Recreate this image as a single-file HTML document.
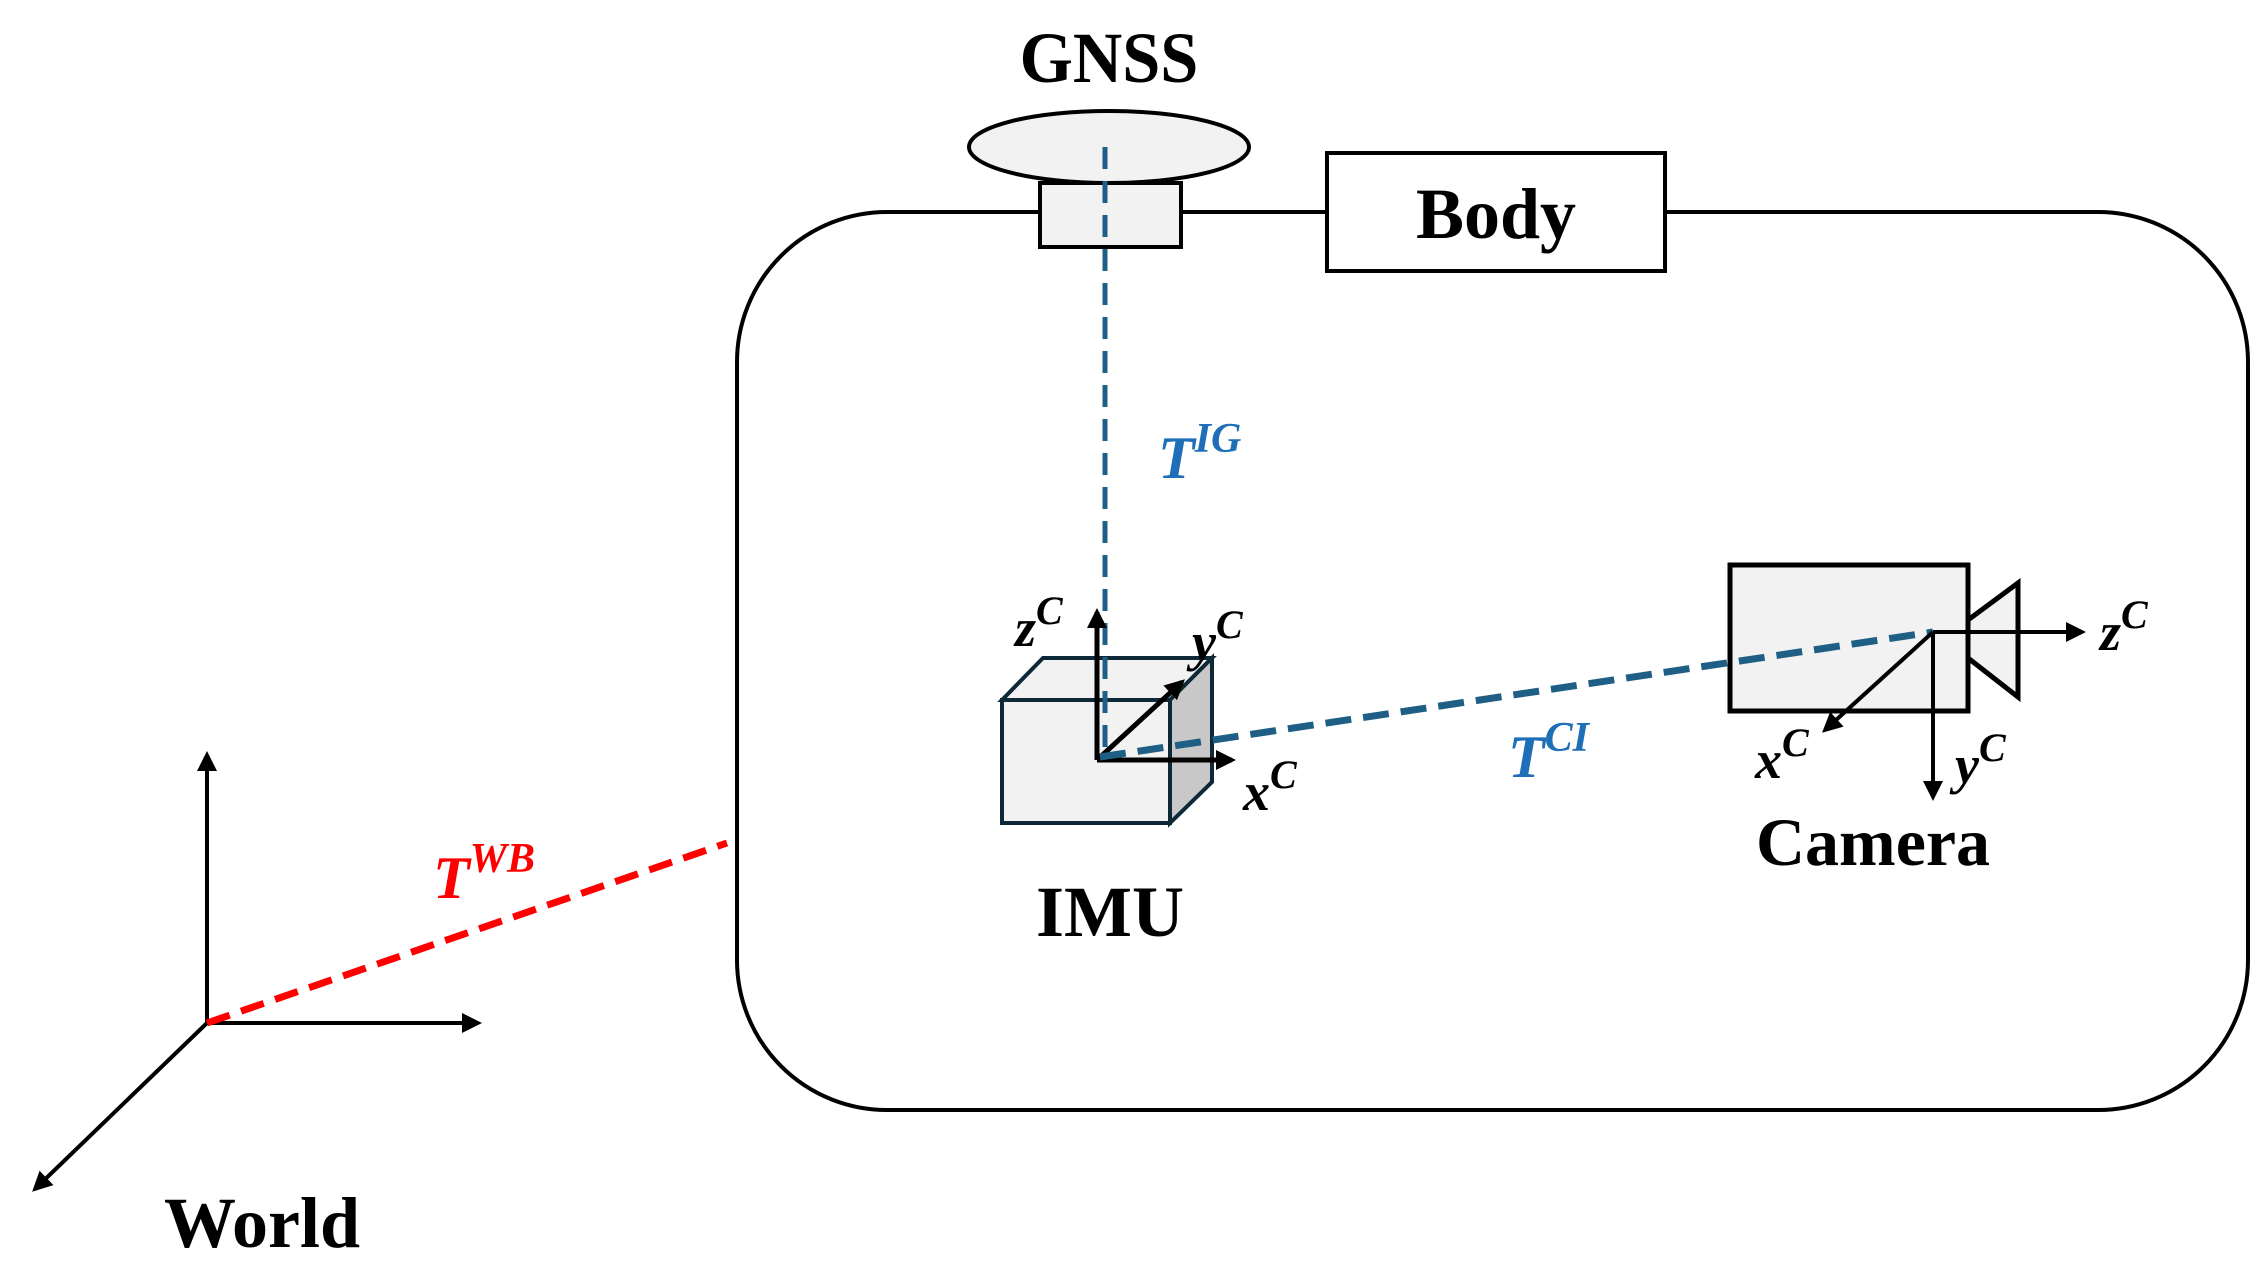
<!DOCTYPE html>
<html><head><meta charset="utf-8"><style>
html,body{margin:0;padding:0;background:#fff;}
svg{display:block;}
.lbl{font-family:"Liberation Serif",serif;font-weight:bold;}
.m{font-family:"Liberation Serif",serif;font-weight:bold;font-style:italic;}
</style></head><body>
<svg width="2263" height="1273" viewBox="0 0 2263 1273" xmlns="http://www.w3.org/2000/svg">
<defs>
<marker id="ar" viewBox="0 0 10 10" refX="8" refY="5" markerWidth="24" markerHeight="20" markerUnits="userSpaceOnUse" orient="auto"><path d="M0,0 L10,5 L0,10 z" fill="#000"/></marker>
</defs>
<rect x="737" y="212" width="1511" height="898" rx="150" ry="150" fill="none" stroke="#000" stroke-width="4"/>
<text class="lbl" x="1109" y="82" font-size="72" text-anchor="middle" transform="translate(1109,0) scale(0.95,1) translate(-1109,0)">GNSS</text>
<rect x="1040" y="183" width="141" height="64" fill="#f2f2f2" stroke="#000" stroke-width="4"/>
<ellipse cx="1109" cy="147" rx="140" ry="36" fill="#f2f2f2" stroke="#000" stroke-width="4"/>
<rect x="1327" y="153" width="338" height="118" fill="#fff" stroke="#000" stroke-width="4"/>
<text class="lbl" x="1496" y="238" font-size="72" text-anchor="middle">Body</text>
<polygon points="1002,700 1043,658 1212,658 1170,700" fill="#f2f2f2" stroke="#0d2836" stroke-width="4"/>
<polygon points="1170,700 1212,658 1212,782 1170,823" fill="#c8c8c8" stroke="#0d2836" stroke-width="4"/>
<rect x="1002" y="700" width="168" height="123" fill="#f2f2f2" stroke="#0d2836" stroke-width="4"/>
<line x1="1105" y1="147" x2="1105" y2="757" stroke="#1f5f86" stroke-width="5" stroke-dasharray="22,12"/>
<line x1="1097" y1="760" x2="1097" y2="612" stroke="#000" stroke-width="5" marker-end="url(#ar)"/>
<line x1="1097" y1="760" x2="1232" y2="760" stroke="#000" stroke-width="5" marker-end="url(#ar)"/>
<line x1="1097" y1="760" x2="1182" y2="682" stroke="#000" stroke-width="5" marker-end="url(#ar)"/>
<rect x="1730" y="565" width="238" height="146" fill="#f2f2f2" stroke="#000" stroke-width="5"/>
<polygon points="1968,620 2018,583 2018,697 1968,658" fill="#f2f2f2" stroke="#000" stroke-width="5"/>
<line x1="1100" y1="757" x2="1933" y2="632" stroke="#1f5f86" stroke-width="7" stroke-dasharray="26,12"/>
<line x1="1933" y1="632" x2="2082" y2="632" stroke="#000" stroke-width="4" marker-end="url(#ar)"/>
<line x1="1933" y1="632" x2="1933" y2="797" stroke="#000" stroke-width="4" marker-end="url(#ar)"/>
<line x1="1933" y1="632" x2="1825" y2="730" stroke="#000" stroke-width="4" marker-end="url(#ar)"/>
<line x1="207" y1="1023" x2="207" y2="755" stroke="#000" stroke-width="4" marker-end="url(#ar)"/>
<line x1="207" y1="1023" x2="478" y2="1023" stroke="#000" stroke-width="4" marker-end="url(#ar)"/>
<line x1="207" y1="1023" x2="35" y2="1189" stroke="#000" stroke-width="4" marker-end="url(#ar)"/>
<line x1="207" y1="1023" x2="727" y2="843" stroke="#ff0000" stroke-width="7" stroke-dasharray="24,12"/>
<text class="lbl" x="1110" y="936" font-size="72" text-anchor="middle">IMU</text>
<text class="lbl" x="1873" y="865" font-size="68" text-anchor="middle">Camera</text>
<text class="lbl" x="262" y="1247" font-size="72" text-anchor="middle">World</text>
<text class="m" x="1158" y="478" font-size="60" fill="#1f6fb8">T<tspan font-size="42" dy="-26">IG</tspan></text>
<text class="m" x="1508" y="777" font-size="60" fill="#1f6fb8">T<tspan font-size="42" dy="-26">CI</tspan></text>
<text class="m" x="433" y="898" font-size="60" fill="#ff0000">T<tspan font-size="42" dy="-26">WB</tspan></text>
<text class="m" x="1015" y="646" font-size="54">z<tspan font-size="40" dy="-22">C</tspan></text>
<text class="m" x="1192" y="660" font-size="54">y<tspan font-size="40" dy="-22">C</tspan></text>
<text class="m" x="1243" y="810" font-size="54">x<tspan font-size="40" dy="-22">C</tspan></text>
<text class="m" x="2100" y="650" font-size="54">z<tspan font-size="40" dy="-22">C</tspan></text>
<text class="m" x="1755" y="778" font-size="54">x<tspan font-size="40" dy="-22">C</tspan></text>
<text class="m" x="1955" y="783" font-size="54">y<tspan font-size="40" dy="-22">C</tspan></text>
</svg>
</body></html>
